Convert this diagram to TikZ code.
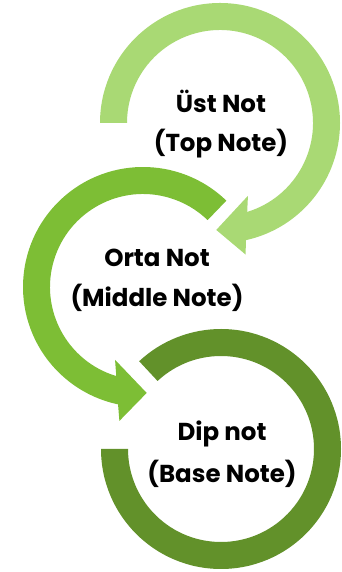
\documentclass[tikz,border=0pt]{standalone}
\usepackage{fontspec}
\setmainfont{Poppins}
\definecolor{gTop}{HTML}{A9D974}
\definecolor{gMid}{HTML}{7DBE35}
\definecolor{gBot}{HTML}{62912A}
\begin{document}
\begin{tikzpicture}[x=1pt,y=1pt,
  lbl/.style={anchor=base,inner sep=0pt,font=\fontsize{24.5}{28}\selectfont\bfseries,text=black}]
\useasboundingbox (0,0) rectangle (341,572);
\coordinate (C1) at (220,449);
\coordinate (C2) at (143,285);
\coordinate (C3) at (221,123);
% bottom ring (no head)
\fill[gBot] ([shift={(180:120)}]C3) arc[start angle=180,end angle=493,radius=120]
  -- ([shift={(493:93)}]C3) arc[start angle=493,end angle=180,radius=93] -- cycle;
% middle arrow
\fill[gMid] ([shift={(46:120)}]C2) arc[start angle=46,end angle=258,radius=120]
  -- ([shift={(260:136)}]C2) -- ([shift={(272:106)}]C2) -- ([shift={(249:78)}]C2)
  -- ([shift={(253.3:93)}]C2) arc[start angle=253.3,end angle=46,radius=93] -- cycle;
% top arrow
\fill[gTop] ([shift={(180:120)}]C1) arc[start angle=180,end angle=-77.5,radius=120]
  -- ([shift={(-79:134)}]C1) -- ([shift={(-92:107)}]C1) -- ([shift={(-69:78)}]C1)
  -- ([shift={(-73:93)}]C1) arc[start angle=-73,end angle=180,radius=93] -- cycle;
% labels
\node[lbl] (t1a) at (221,459) {Üst Not};
\node[lbl] (t1b) at (221,420) {(Top Note)};
\node[lbl] (t2a) at (157,305) {Orta Not};
\node[lbl] (t2b) at (157,265) {(Middle Note)};
\node[lbl] (t3a) at (222,131) {Dip not};
\node[lbl] (t3b) at (222,89) {(Base Note)};
\end{tikzpicture}
\end{document}
